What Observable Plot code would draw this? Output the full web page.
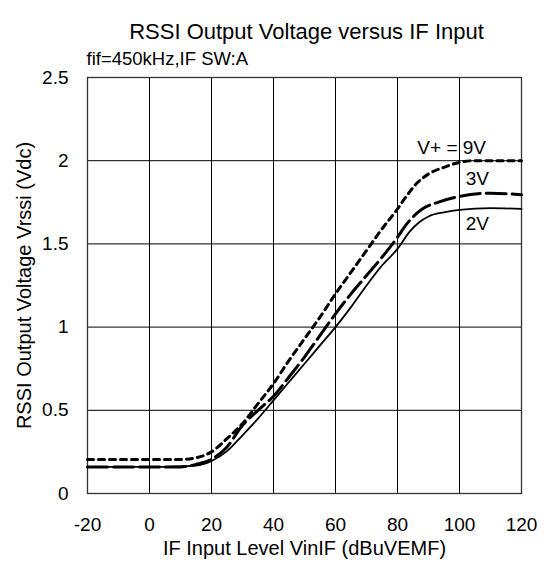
<!DOCTYPE html>
<html><head><meta charset="utf-8">
<script src="https://cdn.jsdelivr.net/npm/d3@7"></script>
<script src="https://cdn.jsdelivr.net/npm/@observablehq/plot@0.6"></script>
<style>body{margin:0;background:#fff}</style>
</head><body><div id="chart"></div>
<script>
const titleText = "RSSI Output Voltage versus IF Input";
const subtitleText = "fif=450kHz,IF SW:A";
const xTitle = "IF Input Level VinIF (dBuVEMF)";
const yTitle = "RSSI Output Voltage Vrssi (Vdc)";

const xTicks = [-20, 0, 20, 40, 60, 80, 100, 120];
const xTickLabels = ["-20", "0", "20", "40", "60", "80", "100", "120"];
const yTicks = [0, 0.5, 1, 1.5, 2, 2.5];
const yTickLabels = ["0", "0.5", "1", "1.5", "2", "2.5"];

// V+ = 9V
const v9x = [-20, 10, 15, 20, 25, 30, 35, 40, 45, 50, 55, 60, 65, 70, 75, 80, 83, 86, 90, 95, 100, 105, 120];
const v9y = [0.205, 0.205, 0.215, 0.25, 0.33, 0.42, 0.54, 0.66, 0.80, 0.93, 1.06, 1.20, 1.33, 1.46, 1.59, 1.71, 1.79, 1.86, 1.92, 1.96, 1.99, 2.0, 2.0];
// V+ = 3V
const v3x = [-20, 10, 15, 20, 25, 30, 35, 40, 45, 50, 55, 60, 65, 70, 75, 80, 83, 86, 88, 93, 100, 110, 120];
const v3y = [0.16, 0.16, 0.175, 0.205, 0.28, 0.41, 0.50, 0.585, 0.70, 0.82, 0.95, 1.08, 1.20, 1.31, 1.42, 1.54, 1.62, 1.68, 1.71, 1.75, 1.785, 1.805, 1.795];
// V+ = 2V
const v2x = [-20, 5, 15, 20, 25, 30, 35, 40, 45, 50, 55, 60, 65, 70, 75, 80, 84, 87, 90, 95, 100, 110, 120];
const v2y = [0.16, 0.16, 0.167, 0.195, 0.255, 0.35, 0.45, 0.56, 0.67, 0.78, 0.89, 1.0, 1.12, 1.25, 1.37, 1.47, 1.575, 1.63, 1.665, 1.69, 1.705, 1.715, 1.71];

const labelText = ["V+ = 9V", "3V", "2V"];
const labelX = [86.4, 102, 102];
const labelY = [2.075, 1.89, 1.62];

const toRows = (xs, ys) => xs.map((x, i) => ({x, y: ys[i]}));
const d9 = toRows(v9x, v9y), d3v = toRows(v3x, v3y), d2 = toRows(v2x, v2y);
const labels = labelText.map((t, i) => ({t, x: labelX[i], y: labelY[i]}));

const chart = Plot.plot({
  width: 550, height: 567,
  marginLeft: 87, marginRight: 29, marginTop: 77, marginBottom: 74,
  style: {fontFamily: '"Liberation Sans", Arial, sans-serif', background: "#fff", color: "#000"},
  x: {domain: [-20, 120]},
  y: {domain: [0, 2.5]},
  marks: [
    Plot.gridX(xTicks, {stroke: "#000", strokeOpacity: 1, strokeWidth: 1}),
    Plot.gridY(yTicks, {stroke: "#000", strokeOpacity: 1, strokeWidth: 1}),
    Plot.frame({stroke: "#333", strokeWidth: 1.3}),
    Plot.axisX(xTicks, {tickSize: 0, tickPadding: 24, fontSize: 19, label: null,
      tickFormat: d => xTickLabels[xTicks.indexOf(d)]}),
    Plot.axisY(yTicks, {tickSize: 0, tickPadding: 19, fontSize: 19, label: null,
      tickFormat: d => yTickLabels[yTicks.indexOf(d)]}),
    Plot.line(d2, {x: "x", y: "y", stroke: "#000", strokeWidth: 1.8, curve: "monotone-x"}),
    Plot.line(d3v, {x: "x", y: "y", stroke: "#000", strokeWidth: 3, strokeDasharray: "20,6", curve: "monotone-x"}),
    Plot.line(d9, {x: "x", y: "y", stroke: "#000", strokeWidth: 3, strokeDasharray: "6,5", curve: "monotone-x"}),
    Plot.text(labels, {x: "x", y: "y", text: "t", textAnchor: "start", fontSize: 19, fill: "#000"}),
    Plot.text([titleText], {text: d => d, frameAnchor: "top", dy: -54, dx: 2, fontSize: 22, fill: "#000"}),
    Plot.text([subtitleText], {text: d => d, frameAnchor: "top-left", textAnchor: "start", dy: -26, dx: -1, fontSize: 18.5, fill: "#000"}),
    Plot.text([yTitle], {text: d => d, frameAnchor: "left", textAnchor: "middle", rotate: -90, dx: -63, fontSize: 20, fill: "#000"}),
    Plot.text([xTitle], {text: d => d, frameAnchor: "bottom", dy: 61, fontSize: 20, fill: "#000"})
  ]
});
document.getElementById("chart").appendChild(chart);
</script>
</body></html>
